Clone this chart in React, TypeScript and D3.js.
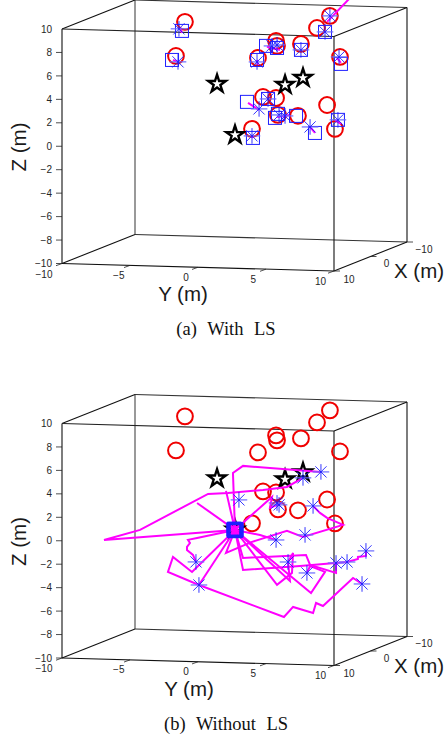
import React from 'react';
import * as d3 from 'd3';

type Pt = number[];

const zTicks = [-10, -8, -6, -4, -2, 0, 2, 4, 6, 8, 10];
const yTicks = [-10, -5, 0, 5, 10];
const xTicks = [-10, 0, 10];

// [Y, Z], all sitting on the X = 10 face of the box
const anchors: Pt[] = [[-0.96, 10.9], [-1.62, 7.97], [9.7, 11.75], [8.75, 10.69], [5.74, 9.49], [5.81, 9.07], [7.57, 9.29], [4.41, 7.99],
  [10.44, 8.27], [4.78, 4.68], [5.74, 4.62], [9.49, 4.14], [5.88, 3.18], [7.35, 3.15], [3.97, 1.93], [10.07, 2.12]];
const targets: Pt[] = [[1.4, 5.68], [2.72, 1.37], [6.4, 5.76], [7.72, 6.4]];

const squaresLS: Pt[] = [[-1.18, 10.12], [-1.91, 7.62], [9.34, 10.37], [5, 9.04], [5.81, 8.89], [7.57, 8.78], [4.34, 7.82], [10.51, 7.68],
  [3.6, 4.22], [5.15, 4.52], [5.88, 3.27], [5.66, 2.92], [7.21, 3.14], [8.6, 1.73], [10.29, 2.9], [4.04, 1.16]];
const starsLS: Pt[] = [[-1.4, 10.29], [-1.47, 7.47], [9.7, 11.75], [9.34, 10.37], [5.44, 9.05], [5.81, 9.15], [7.57, 8.78], [4.34, 7.65],
  [10.37, 8.27], [4.49, 3.65], [5.15, 4.52], [5.96, 3.18], [6.4, 3.11], [8.24, 2.23], [10.29, 2.9], [3.97, 1.33]];
const trailsLS: Pt[][] = [
  [[9.49, 11.23], [11.18, 13.33]],
  [[-1.32, 10.37], [-1.18, 9.95]],
  [[-1.84, 7.63], [-1.47, 7.47]],
  [[3.68, 4.13], [4.49, 3.56]],
  [[5.07, 8.96], [6.03, 8.73]],
  [[4.34, 7.82], [4.41, 7.4]],
  [[10.22, 8.18], [10.51, 7.77]],
  [[5.81, 3.01], [6.76, 3.21]],
  [[8.24, 2.23], [8.6, 1.73]],
  [[10.07, 2.89], [10.51, 2.56]],
  [[3.97, 1.41], [4.04, 1.16]],
];

const squaresNoLS: Pt[] = [[2.62, 1.4], [2.72, 1.33], [2.82, 1.28], [2.7, 1.24], [2.76, 1.42], [2.66, 1.28], [2.78, 1.38], [2.7, 1.33],
  [2.84, 1.36], [2.6, 1.34], [2.72, 1.22], [2.8, 1.26], [2.66, 1.44], [2.74, 1.4], [2.64, 1.26], [2.71, 1.31]];
const starsNoLS: Pt[] = [[3.01, 3.9], [9.04, 6.48], [7.72, 5.93], [5.96, 3.57], [5.81, 3.73], [8.46, 3.56], [-0.15, -1.49], [0.07, -3.45],
  [5.74, 0.57], [7.87, 1.07], [6.62, -1.28], [8.01, -2.17], [10.15, -1.25], [10.96, -1.14], [12.35, -0.15], [12.06, -2.98]];
const c: Pt = [2.72, 1.33];
const trailsNoLS: Pt[][] = [
  [c, [2.42, 1.72], [3.02, 1.02], [2.46, 0.98], [3.0, 1.68], [2.5, 1.38], [2.96, 1.3], [2.7, 0.96], [2.74, 1.72]],
  [c, [-6.91, 0.17], [-4.26, 1.11], [0.74, 4.34], [2.21, 4.47], [4.78, 4.81], [6.54, 5.12], [7.72, 5.93]],
  [c, [2.57, 6.19], [3.31, 6.81], [9.04, 6.48]],
  [c, [-0.07, 3.54]],
  [c, [2.06, 4.64]],
  [c, [5.44, 4.23], [5.29, 3.29], [6.18, 3.74]],
  [c, [2.06, -0.65], [3.97, 0.35], [6.54, 1.37], [7.72, 0.89], [10.66, 2.01], [9.49, 2.57], [8.97, 2.98], [8.46, 3.56]],
  [c, [4.56, 0.96], [5.74, 0.57]],
  [c, [3.31, -1.04], [7.94, -0.64], [8.24, -1.48], [10.15, -2.1], [10.15, -1.25]],
  [c, [3.31, -2.06], [7.5, -1.59], [10.96, -1.14], [11.76, -0.86], [11.76, -0.69], [12.35, -0.58], [12.35, -0.15]],
  [c, [5.81, -3.26], [6.91, -2.2], [6.99, -0.5], [6.62, -1.28]],
  [c, [6.76, -2.89], [6.62, -1.28]],
  [c, [8.31, -3.87], [9.34, -2.04], [8.24, -1.57], [8.01, -2.17]],
  [c, [-0.07, 0.56], [-0.74, 0.37], [-0.59, 0.11], [-0.81, -0.23], [-0.81, -0.49], [-0.37, -0.9], [-0.15, -1.49]],
  [c, [-0.44, -2.36], [-1.84, -1.12], [-2.21, -2.41], [0.07, -3.45], [6.32, -5.98], [6.99, -5.1], [8.46, -5.57], [8.68, -4.71], [9.19, -4.95], [11.4, -2.49], [12.06, -2.98]],
  [c, [0.07, -3.45]],
];

// oblique view of the box: Y runs along the front, X goes back into the page
const yScale = d3.scaleLinear().domain([-10, 10]).range([62, 334]);
const yTilt = d3.scaleLinear().domain([-10, 10]).range([0, 7.5]);
const zScale = d3.scaleLinear().domain([-10, 10]).range([263.5, 29]);
const xDx = d3.scaleLinear().domain([10, -10]).range([0, 73]);
const xDy = d3.scaleLinear().domain([10, -10]).range([0, -29]);

const project = (x: number, y: number, z: number): [number, number] => [
  yScale(y) + xDx(x),
  zScale(z) + yTilt(y) + xDy(x),
];
const front = (p: Pt) => project(10, p[0], p[1]);

const trailLine = d3.line<Pt>().x(d => front(d)[0]).y(d => front(d)[1]);
const starPath = d3.symbol().type(d3.symbolStar).size(96)() as string;

const minus = (v: number) => String(v).replace('-', '\u2212');

const edge = (a: [number, number, number], b: [number, number, number], color: string, w = 1.1) => {
  const p = project(a[0], a[1], a[2]);
  const q = project(b[0], b[1], b[2]);
  return <line x1={p[0]} y1={p[1]} x2={q[0]} y2={q[1]} stroke={color} strokeWidth={w} />;
};

const Asterisk = ({ at }: { at: Pt }) => {
  const [px, py] = front(at);
  const r = 7.8;
  const d = r * 0.72;
  return (
    <g transform={`translate(${px},${py})`} fill="none">
      <path d={`M${-r - 0.5} 0H${r + 0.5}`} stroke="#6a6aff" strokeWidth="1.2" />
      <path d={`M0 ${-r}V${r}M${-d} ${-d}L${d} ${d}M${-d} ${d}L${d} ${-d}`} stroke="#1f1fff" strokeWidth="0.9" />
    </g>
  );
};

type PanelProps = { dy: number, squares: Pt[], asterisks: Pt[], trails: Pt[][], yTitleX: number };

const Panel = ({ dy, squares, asterisks, trails, yTitleX }: PanelProps) => (
  <g transform={`translate(0,${dy})`}>
    {/* back edges first, they print gray */}
    {edge([-10, -10, -10], [-10, -10, 10], '#6e6e6e', 1.4)}
    {edge([-10, -10, -10], [-10, 10, -10], '#333')}
    {edge([-10, -10, 10], [-10, 10, 10], '#333')}
    {edge([-10, 10, -10], [-10, 10, 10], '#111')}
    {edge([10, -10, -10], [-10, -10, -10], '#111')}
    {edge([10, -10, 10], [-10, -10, 10], '#111')}
    {edge([10, 10, -10], [-10, 10, -10], '#111')}
    {edge([10, 10, 10], [-10, 10, 10], '#111')}
    {edge([10, -10, -10], [10, -10, 10], '#111')}
    {edge([10, 10, -10], [10, 10, 10], '#111')}
    {edge([10, -10, -10], [10, 10, -10], '#111')}
    {edge([10, -10, 10], [10, 10, 10], '#222')}

    {zTicks.map(t => {
      const [px, py] = project(10, -10, t);
      return (
        <g key={t}>
          {t !== 10 && <line x1={px - 6} x2={px} y1={py} y2={py} stroke="#222" strokeWidth="0.8" />}
          <text x={px - 10} y={py + 3.6} textAnchor="end" fontSize="10" fill="#262626">{minus(t)}</text>
        </g>
      );
    })}
    {yTicks.map(t => {
      const [px, py] = project(10, t, -10);
      return (
        <g key={t}>
          <line x1={px} y1={py} x2={px - 6} y2={py + 2.2} stroke="#222" strokeWidth="0.8" />
          <text x={t === -10 ? px - 18 : px - 12 - t * 0.15} y={py + (t === -10 ? 14 : 13.5)} textAnchor="middle" fontSize="10" fill="#262626">{minus(t)}</text>
        </g>
      );
    })}
    {xTicks.map(t => {
      const [px, py] = project(t, 10, -10);
      return (
        <g key={t}>
          <line x1={px} y1={py} x2={px + 6} y2={py} stroke="#222" strokeWidth="0.8" />
          <text x={px + 15 + (10 - t) * 0.1} y={py + (t === 10 ? 11.5 : 10.5)} textAnchor="middle" fontSize="10" fill="#262626">{minus(t)}</text>
        </g>
      );
    })}

    <text x={yTitleX} y="301" textAnchor="middle" fontSize="20.5" fill="#1a1a1a">Y (m)</text>
    <text x="419" y="278" textAnchor="middle" fontSize="20.5" fill="#1a1a1a">X (m)</text>
    <text transform="translate(26,147) rotate(-90)" textAnchor="middle" fontSize="20.5" fill="#1a1a1a">Z (m)</text>

    {anchors.map((p, i) => (
      <circle key={i} cx={front(p)[0]} cy={front(p)[1]} r="7.9" fill="none" stroke="#f00000" strokeWidth="2" />
    ))}
    {targets.map((p, i) => (
      <path key={i} d={starPath} transform={`translate(${front(p)[0]},${front(p)[1]})`} fill="none" stroke="#000" strokeWidth="2.4" />
    ))}
    {trails.map((t, i) => (
      <path key={i} d={trailLine(t) as string} fill="none" stroke="#ff00ff" strokeWidth="2" strokeLinejoin="miter" />
    ))}
    {squares.map((p, i) => (
      <rect key={i} x={front(p)[0] - 6.5} y={front(p)[1] - 6.5} width="13" height="13" fill="none" stroke="#1f1fff" strokeWidth="1" />
    ))}
    {asterisks.map((p, i) => <Asterisk key={i} at={p} />)}
  </g>
);

export default function App() {
  const serif = { fontFamily: '"Liberation Serif", serif', fontSize: 18.5, wordSpacing: 6, fill: '#111' };
  return (
    <svg
      width={444}
      height={740}
      style={{ position: 'absolute', left: 0, top: 0, fontFamily: '"Liberation Sans", Arial, sans-serif', background: '#fff' }}
    >
      <Panel dy={0} squares={squaresLS} asterisks={starsLS} trails={trailsLS} yTitleX={183} />
      <Panel dy={394.5} squares={squaresNoLS} asterisks={starsNoLS} trails={trailsNoLS} yTitleX={189} />
      <text x="226" y="335" textAnchor="middle" style={serif}>(a) With LS</text>
      <text x="226" y="730" textAnchor="middle" style={serif}>(b) Without LS</text>
    </svg>
  );
}
